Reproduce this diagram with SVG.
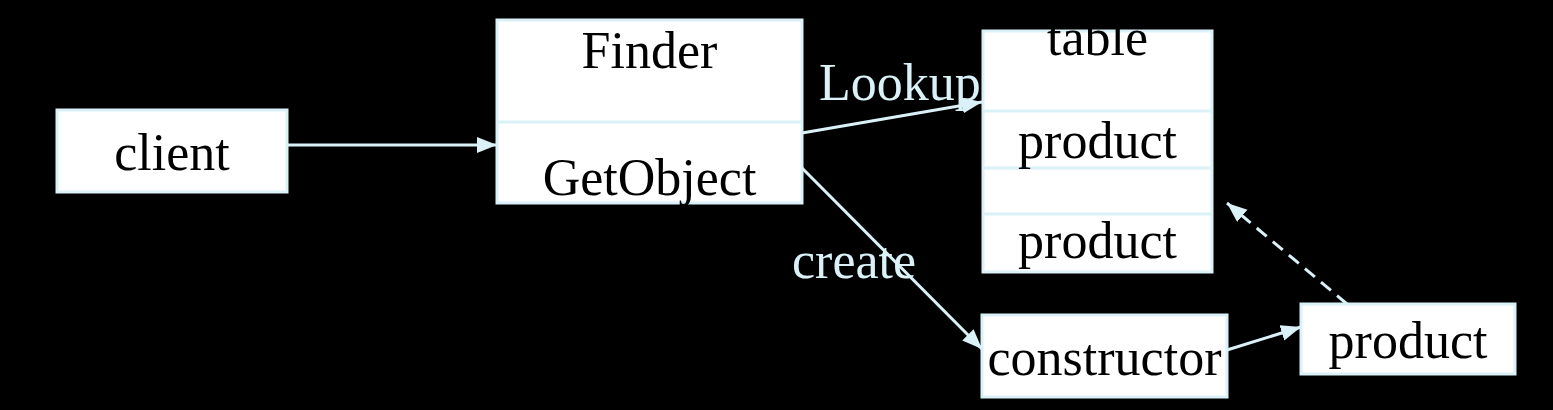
<svg xmlns="http://www.w3.org/2000/svg" width="1553" height="410" viewBox="0 0 1553 410">
<defs>
<style>
.box{fill:#ffffff;stroke:#d9f1f7;stroke-width:3}
.div{stroke:#d9f1f7;stroke-width:3}
.t{font-family:"Liberation Serif","Times New Roman",serif;font-size:52px;fill:#000000;text-anchor:middle}
.lbl{font-family:"Liberation Serif","Times New Roman",serif;font-size:52px;fill:#d9f1f7}
.c{stroke:#d9f1f7;stroke-width:3;fill:none}
.dash{stroke-dasharray:13 8}
</style>
<marker id="ah" markerUnits="userSpaceOnUse" markerWidth="22" markerHeight="18" refX="20" refY="8" orient="auto">
<path d="M0,0 L20,8 L0,16 z" fill="#d9f1f7"/>
</marker>
</defs>
<rect x="0" y="0" width="1553" height="410" fill="#000000"/>
<g id="client">
<rect class="box" x="57" y="110" width="230" height="82"/>
<text class="t" x="172" y="170">client</text>
</g>
<g id="finder">
<rect class="box" x="497" y="20" width="305" height="183"/>
<line class="div" x1="497" y1="122" x2="802" y2="122"/>
<text class="t" x="649.5" y="68">Finder</text>
<text class="t" x="649.5" y="195">GetObject</text>
</g>
<g id="table">
<rect class="box" x="983" y="31" width="229" height="241"/>
<line class="div" x1="983" y1="111" x2="1212" y2="111"/>
<line class="div" x1="983" y1="168" x2="1212" y2="168"/>
<line class="div" x1="983" y1="214" x2="1212" y2="214"/>
<text class="t" x="1097.5" y="55">table</text>
<text class="t" x="1097.5" y="158">product</text>
<text class="t" x="1097.5" y="258">product</text>
</g>
<g id="constructor">
<rect class="box" x="982" y="315" width="245" height="82"/>
<text class="t" x="1104.5" y="375">constructor</text>
</g>
<g id="product">
<rect class="box" x="1301" y="304" width="214" height="70"/>
<text class="t" x="1408" y="358">product</text>
</g>
<g id="connectors">
<line class="c" x1="287" y1="145" x2="497" y2="145" marker-end="url(#ah)"/>
<line class="c" x1="802" y1="133" x2="982" y2="102" marker-end="url(#ah)"/>
<line class="c" x1="802" y1="168" x2="982" y2="349" marker-end="url(#ah)"/>
<line class="c" x1="1227" y1="350" x2="1301" y2="327" marker-end="url(#ah)"/>
<line class="c dash" x1="1347" y1="304" x2="1227" y2="203" marker-end="url(#ah)"/>
<text class="lbl" x="819" y="100">Lookup</text>
<text class="lbl" x="792" y="278">create</text>
</g>
</svg>
